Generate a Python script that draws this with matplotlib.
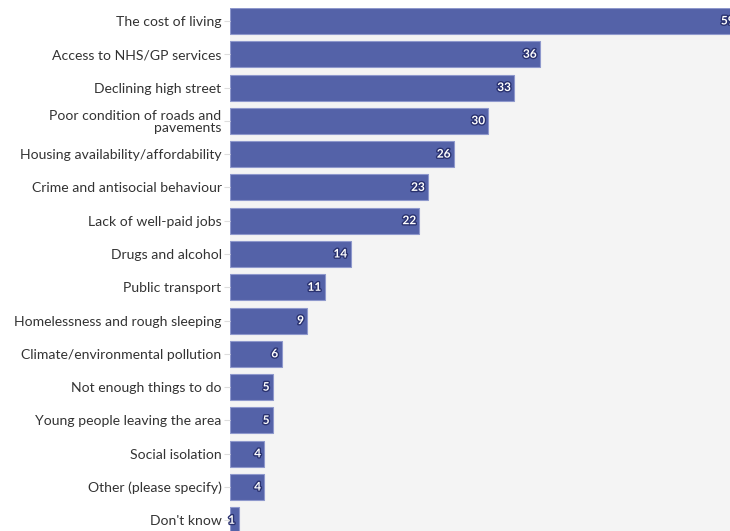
import matplotlib.pyplot as plt
import matplotlib.patheffects as pe

# Share of respondents naming each local issue (%)
issues = [
    'The cost of living',
    'Access to NHS/GP services',
    'Declining high street',
    'Poor condition of roads and\npavements',
    'Housing availability/affordability',
    'Crime and antisocial behaviour',
    'Lack of well-paid jobs',
    'Drugs and alcohol',
    'Public transport',
    'Homelessness and rough sleeping',
    'Climate/environmental pollution',
    'Not enough things to do',
    'Young people leaving the area',
    'Social isolation',
    'Other (please specify)',
    "Don't know",
]
percent = [59, 36, 33, 30, 26, 23, 22, 14, 11, 9, 6, 5, 5, 4, 4, 1]

bar_color = '#5462a8'
edge_color = '#8e98cc'

fig = plt.figure(figsize=(7.3, 5.31), dpi=100)
fig.patch.set_facecolor('white')
# axes runs past the right and bottom edges so the longest bar is cut off
ax = fig.add_axes([0.315, -0.03, 0.715, 1.015])
ax.set_facecolor('#f4f4f4')

y = list(range(len(issues)))
ax.barh(y, percent, height=0.78, color=bar_color, edgecolor=edge_color, linewidth=0.8)

ax.set_xlim(0, 60.6)
ax.set_ylim(15.8, -0.39)
ax.set_yticks(y)
ax.set_yticklabels(issues, fontsize=10.1, color='#333333', family='Lato',
                   linespacing=1.0)
ax.set_xticks([])
ax.tick_params(axis='y', length=4, width=0.8, color='#dddddd', pad=2)
for s in ax.spines.values():
    s.set_visible(False)

for yi, v in zip(y, percent):
    ax.text(v - 0.4, yi, str(v), ha='right', va='center', fontsize=8.5,
            fontweight='bold', color='white', family='Lato',
            path_effects=[pe.withStroke(linewidth=2, foreground='#2a3270')])

plt.savefig('out.png', dpi=100)
